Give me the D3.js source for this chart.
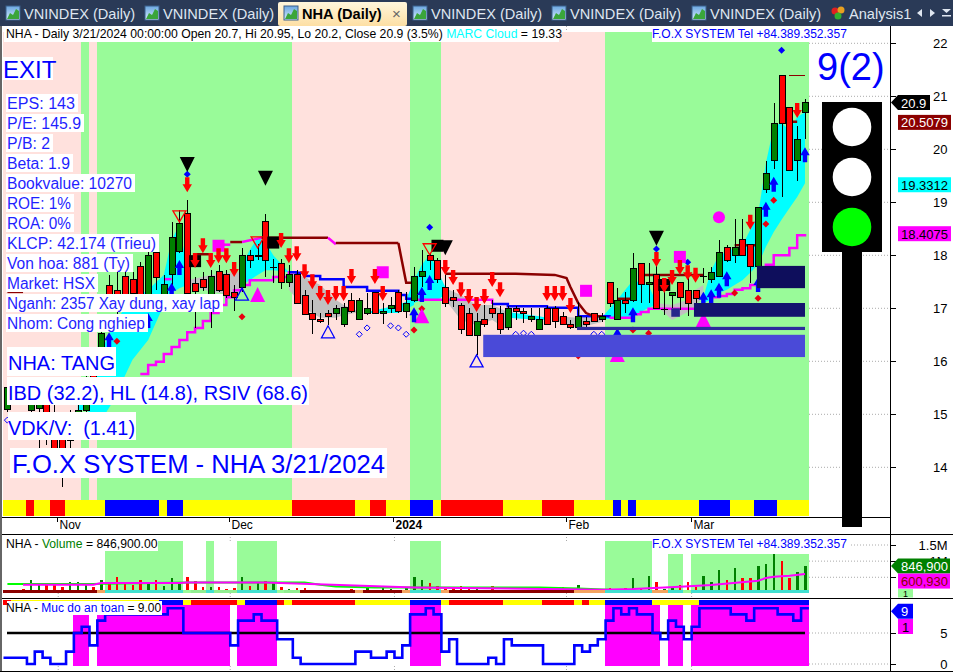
<!DOCTYPE html>
<html><head><meta charset="utf-8">
<script src="https://cdn.jsdelivr.net/npm/d3@7/dist/d3.min.js"></script>
<style>html,body{margin:0;padding:0;background:#fff;overflow:hidden}svg{display:block}text{font-family:"Liberation Sans",Arial,sans-serif;white-space:pre}</style>
</head><body><svg id="c" width="953" height="672"></svg>
<script>
// ---------- DATA ----------
const opens =[15.10,15.42,15.55,15.08,15.12,15.27,14.99,14.70,14.51,14.70,15.08,15.93,16.06,17.44,17.35,17.61,17.55,17.80,17.21,18.06,17.16,17.65,18.08,18.79,17.48,17.55,17.25,17.70,17.65,17.31,17.40,18.01,17.98,18.65,17.78,17.85,17.50,17.65,17.25,16.91,16.80,16.91,16.91,16.70,17.16,16.80,16.91,17.31,16.91,17.01,17.31,16.95,17.16,17.61,18.01,17.91,17.40,17.21,17.06,16.91,16.50,16.80,17.01,16.91,16.65,17.01,16.95,16.80,16.61,17.01,17.01,16.85,16.70,16.65,16.76,16.91,16.80,17.50,16.80,17.16,17.16,17.85,17.46,17.65,16.99,17.25,17.50,17.35,17.35,17.61,17.55,17.61,18.16,18.01,18.31,18.21,17.80,19.25,19.80,21.40,20.80,19.80,20.70];
const closes=[15.51,15.27,15.27,15.36,15.21,14.89,14.36,14.36,14.89,15.08,15.65,15.36,16.53,17.16,17.06,17.21,17.29,17.25,18.01,17.59,17.46,18.35,18.61,17.29,17.33,17.40,17.61,17.35,17.25,17.21,18.01,17.91,18.00,17.91,17.78,17.50,17.65,17.10,16.89,16.80,16.76,16.85,17.01,17.02,16.95,17.16,17.01,16.91,16.95,17.06,16.95,17.10,17.61,17.70,17.91,17.55,17.10,17.16,16.61,16.50,16.76,16.70,16.91,16.61,17.01,16.95,16.91,16.85,16.80,16.70,16.76,16.70,16.65,16.85,16.70,16.76,16.85,17.10,17.16,17.10,17.76,17.46,17.50,17.01,16.99,17.31,17.21,17.10,17.19,17.61,17.68,18.06,17.91,18.16,18.01,17.80,18.91,19.55,20.50,20.50,19.61,20.19,20.90];
const highs =[15.59,15.50,15.65,15.46,15.31,15.42,15.18,14.89,15.08,15.27,15.84,16.12,16.63,17.63,17.68,17.72,17.68,17.87,18.10,18.14,17.63,18.63,18.85,19.04,17.59,17.68,17.72,17.82,17.72,17.44,18.14,18.10,18.21,18.78,17.93,17.93,17.82,17.72,17.35,17.16,16.91,16.97,17.06,17.10,17.29,17.19,17.29,17.31,17.10,17.21,17.35,17.31,17.78,18.10,18.04,17.95,17.63,17.35,17.10,17.01,16.91,17.06,17.16,17.04,17.04,17.04,17.01,17.01,17.01,17.04,17.04,16.93,16.78,17.12,16.83,16.91,16.91,17.50,17.38,17.31,18.04,17.85,17.85,17.95,17.40,17.31,17.50,17.63,17.35,17.76,17.78,18.29,18.19,18.68,18.68,18.21,18.91,19.78,20.87,21.40,20.80,20.44,20.95];
const lows  =[15.04,15.19,15.18,14.99,14.36,14.42,14.33,13.63,14.36,14.61,14.99,15.27,15.93,16.97,16.87,17.16,17.21,17.19,17.16,17.35,17.06,17.29,18.04,17.29,16.63,17.33,16.63,17.31,17.19,16.95,17.31,17.76,17.91,17.59,17.48,17.36,17.40,17.10,16.89,16.51,16.72,16.68,16.78,16.65,16.91,16.80,16.87,16.91,16.70,16.91,16.91,16.82,17.12,17.40,17.72,17.48,17.02,17.02,16.51,16.50,16.12,16.65,16.82,16.51,16.59,16.78,16.72,16.74,16.61,16.70,16.63,16.68,16.61,16.63,16.65,16.76,16.74,17.02,16.80,16.91,17.12,17.10,17.10,17.01,16.87,17.01,16.97,16.85,17.02,17.48,17.48,17.61,17.87,17.85,18.01,17.48,17.80,19.18,19.63,19.10,19.61,19.40,20.20];
const volumes=[60,60,134,413,268,268,289,186,351,351,268,186,413,351,506,330,268,413,289,413,237,475,289,516,392,186,206,206,144,165,516,237,351,392,330,186,124,165,165,103,103,83,62,41,134,103,186,83,165,134,83,165,516,423,330,237,134,186,237,155,124,83,217,83,113,83,83,50,83,50,50,186,83,268,103,83,134,165,134,165,475,165,537,351,134,165,268,351,186,537,351,722,413,784,475,475,846,908,1290,1011,475,660,846.9];
const safety=[1,1,1,0,2,1,0,0,2,5,6,3,7,8,8,8,8,8,8,8,8,9,9,5,5,5,5,5,5,3,7,7,8,7,7,4,4,1,0,0,0,0,0,0,0,2,2,1,1,2,1,3,8,8,9,8,2,4,0,0,0,0,1,0,4,3,3,3,3,0,0,0,0,3,2,3,4,7,9,8,9,8,8,5,4,7,6,4,6,9,9,9,9,8,8,7,9,9,9,8,8,7,9];
const priceTicks=[14,15,16,17,18,19,20,21,22];
const volTicks=[500,1000,1500];
const safetyTicks=[0,5];
const dateTickIdx=[7,29,50,72,88];
const dateTickLabels=["Nov","Dec","2024","Feb","Mar"];
const regimeRuns=[["p",10],["g",1],["p",1],["g",25],["p",15],["g",4],["p",21],["g",26]];
const trendRuns=[["y",3],["r",1],["y",2],["r",2],["y",5],["b",7],["y",1],["b",2],["y",14],["r",8],["y",2],["r",2],["y",3],["b",3],["y",1],["r",8],["y",5],["r",4],["y",5],["b",1],["y",1],["b",1],["y",8],["b",4],["y",3],["b",3],["y",3],["b",1]];
const safeStripRuns=[["r",1],["y",19],["b",3],["y",1],["r",6],["y",1],["b",4],["r",1],["y",1],["r",8],["y",7],["b",4],["y",1],["r",7],["y",5],["r",4],["y",1],["r",1],["y",2],["b",6],["y",6],["b",14]];
const volStripRuns=[["d",12],["o",1],["t",10],["g",1],["l",2],["t",1],["l",3],["t",5],["g",1],["l",2],["d",7],["o",1],["d",5],["o",1],["t",4],["o",1],["d",16],["o",4],["t",6],["o",2],["t",2],["g",1],["t",15]];
const volBandRuns=[["n",13],["g",10],["n",3],["g",1],["n",3],["g",5],["n",17],["g",4],["n",21],["g",6],["n",2],["g",2],["n",1],["g",15]];
const safeBandRuns=[["n",9],["m",2],["n",1],["m",17],["n",1],["m",5],["n",17],["m",4],["n",21],["m",7],["n",1],["m",2],["n",1],["m",15]];
// MARC cloud, segment by segment
const cloudKinds=["c","s","c","s","c","c","s","c","s","c","s","c"];
const cloudIdx=[[9,10,11,12,14,15,16,18,20,21,22,23],[23,26,29,30],[30,31,32,33,34,36],[36,38,40,42,43,45],[46,50,52],[51,52,53,54,55,56],[56,58,60,62,64],[64,68,69],[70,73,76],[76,78,80,81,82,83],[83,85,87,88,89],[89,90,91,92,93,94,95,96,97,98,99,100,101,102]];
const cloudUp=[[15.36,15.46,15.55,16.21,16.78,17.0,17.16,17.35,17.63,18.29,18.57,17.72],[17.53,17.63,17.68,17.68],[17.82,18.10,18.33,18.25,18.0,17.68],[17.68,17.59,17.44,17.16,17.06,16.93],[16.93,17.06,17.19],[17.16,17.53,17.82,18.01,17.72,17.40],[17.38,17.25,17.06,17.06,16.93],[16.93,16.85,16.82],[16.85,16.82,16.82],[16.82,17.16,17.53,17.48,17.44,17.10],[17.10,17.06,17.16,17.35,17.44],[17.21,17.72,18.0,18.06,18.14,18.19,18.48,18.76,19.74,20.42,20.50,20.36,20.61,20.70]];
const cloudLow=[[15.08,15.08,15.0,14.89,15.36,15.72,16.03,16.40,17.06,17.29,17.38,17.44],[17.44,17.31,17.25,17.35],[17.44,17.53,17.63,17.72,17.72,17.68],[17.35,17.0,16.82,16.82,16.87,16.93],[16.91,16.91,17.06],[17.06,17.10,17.16,17.16,17.16,17.25],[17.16,16.78,16.68,16.78,16.59],[16.82,16.78,16.78],[16.78,16.63,16.74],[16.80,16.80,16.84,16.93,17.01,17.06],[17.06,16.78,16.93,17.06,17.21],[17.10,17.16,17.29,17.35,17.44,17.53,17.67,17.82,18.16,18.44,18.67,18.89,19.10,19.36]];
// stop line
const stopIdx=[[0,2],[20,21],[24,26],[27,28.5],[28.5,30],[30,32.5],[32.5,41],[41,42],[42,50],[50,51,52.5],[56,65,70,71.5,72,73,74,75,76],[78,80.5],[81.5,89],[93,96],[99,101]];
const stopVal=[[17.31,17.31],[17.55,17.55],[18.02,18.02],[18.2,18.2],[18.25,18.25],[18.25,18.33],[18.33,18.33],[18.33,18.21],[18.23,18.23],[18.23,17.48,17.48],[17.65,17.65,17.63,17.57,17.40,17.10,16.91,16.85,16.85],[17.18,17.18],[17.63,17.63],[18.19,18.19],[20.52,20.52]];
const stopColor=["#8b0000","#ff00ff","#8b0000","#ff00ff","#8b0000","#ff00ff","#8b0000","#ff00ff","#8b0000","#8b0000","#8b0000","#8b0000","#8b0000","#8b0000","#8b0000"];
// cloud base, stepped
const baseIdx=[17,18,19,20,21,22,23,24,25,26,27,28,29,30,31,33,34,36,37,38,40,43,46,50,51,52,56,62,64,69,73,77,80,81,82,88,89,90,91,92,93,94,95,96,97,98,100,101,102];
const baseVal=[15.76,15.93,15.99,16.14,16.27,16.40,16.55,16.63,16.76,16.91,17.06,17.21,17.34,17.44,17.53,17.53,17.59,17.68,17.67,17.61,17.55,17.40,17.33,17.25,17.18,17.16,17.16,17.08,17.04,17.01,16.85,16.82,16.89,16.93,16.99,17.02,17.06,17.21,17.23,17.27,17.35,17.38,17.44,17.48,17.82,18.0,18.14,18.38,18.40];
const baseColorBreaks=[[17,"#ff00ff"],[37,"#0000ff"],[53,"#ff00ff"],[62,"#0000ff"],[77,"#ff00ff"]];
// volume averages
const volFastIdx=[0,11,12,23,38,40,42,47,52,68,73,77];
const volFastVal=[289,289,300,340,340,268,217,186,186,186,155,113];
const volSlowIdx=[2,11,12,22,23,33,52,76,80,86,90,96,97,98,100,102];
const volSlowVal=[268,268,320,320,340,340,186,113,134,206,258,392,475,516,547,600.93];
// signals: [bar, price]
const redDown=[[23,19.19],[24,17.76],[25,18.04],[26,17.76],[27,17.85],[28,17.85],[29,17.59],[35,18.14],[36,17.85],[37,17.89],[38,17.55],[39,17.36],[40,17.14],[41,17.06],[42,17.14],[43,17.14],[44,17.46],[47,17.46],[48,17.14],[56,17.63],[57,17.44],[58,17.21],[59,17.08],[60,16.93],[61,17.08],[62,17.40],[63,17.21],[69,17.14],[70,17.14],[71,17.14],[72,16.91],[83,17.78],[84,17.29],[85,17.44],[86,17.63],[87,17.53],[88,17.48],[95,18.48],[101,20.59]];
const blueUp=[[13,16.55],[18,16.91],[21,17.48],[22,17.91],[52,17.02],[53,17.40],[54,17.63],[78,16.63],[80,17.02],[89,17.31],[90,17.36],[91,17.48],[92,17.70],[96,17.59],[97,19.01],[98,19.48],[102,20.04]];
const redDiamonds=[[14,16.38],[30,16.84],[52,16.59],[53,16.99],[73,16.10],[80,16.59],[82,16.53],[93,17.29],[96,17.19],[97,18.59],[98,19.04]];
const blueDiamonds=[[23,19.53],[54,18.53],[83,18.12],[87,17.87],[99,21.87]];
const hollowDiamonds=[[0,14.89],[45,16.51],[46,16.63],[49,16.67],[50,16.63],[51,16.51],[65,16.51],[66,16.53],[67,16.51],[75,16.51],[76,16.51]];
const blackTriangles=[[23,19.57],[33,19.31],[56,18.0],[83,18.18]];
const blackSquares=[[24,17.89],[34,18.24],[55,18.18],[84,17.44]];
const hollowRedTri=[[22,18.63],[32,18.14],[54,18.01]];
const hollowBlueTri=[[30,17.38],[41,16.67],[60,16.12]];
const magentaTri=[[32,17.40],[53,17.0],[78,16.27],[89,16.93]];
const magentaSquares=[[27,18.18],[48,17.68],[74,17.33],[86,17.97]];
const magentaCircles=[[91,18.72]];
const zones=[[60.85,102,16.50,16.08,"#4a4ad8"],[72.85,102,16.65,16.59,"#2c2c9c"],[87.8,102,17.10,16.84,"#14146e"],[84.9,86,17.0,16.84,"#26268a"],[95.85,102,17.80,17.38,"#0e0e5c"]];
const infoLines=["EPS: 143","P/E: 145.9","P/B: 2","Beta: 1.9","Bookvalue: 10270","ROE: 1%","ROA: 0%","KLCP: 42.174 (Trieu)","Von hoa: 881 (Ty)","Market: HSX","Nganh: 2357 Xay dung, xay lap","Nhom: Cong nghiep"];
const infoTextWidths=[68,74,43,63,125,64,64,149,123,88,213,138];
const tabLabels=["VNINDEX (Daily)","VNINDEX (Daily)","NHA (Daily)","VNINDEX (Daily)","VNINDEX (Daily)","VNINDEX (Daily)","Analysis1"];
const lastClose=20.9,stopLast=20.5079,cloudLast=19.3312,baseLast=18.4075,lastVol=846.9,avgVol=600.93;

// ---------- SCALES ----------
const n=closes.length;
const x=d3.scaleLinear().domain([0,n-1]).range([7.4,805]);
const y=d3.scaleLinear().domain([22,14]).range([43.3,467.3]);
const yV=d3.scaleLinear().domain([0,1500]).range([593.4,545]);
const yS=d3.scaleLinear().domain([0,5]).range([664,633]);
const svg=d3.select("#c");
const colors={p:"#ffe1dd",g:"#99fb99",y:"#ffff00",r:"#ff0000",b:"#0000ff",d:"#8b0000",o:"#f4a460",t:"#40e0d0",l:"#90ee90",m:"#ff00ff",c:"#00ffff",s:"#c0c0c0"};
function expand(runs){const a=[];let i=0;runs.forEach(([k,c])=>{a.push({k,i,c});i+=c;});return a;}
const edge=i=>i>=n-1?809:Math.round(x(i-0.5)-0.6);
function runRects(g,runs,y0,y1){
 g.selectAll(null).data(expand(runs).filter(d=>d.k!=="n")).join("rect")
  .attr("x",d=>edge(d.i)).attr("width",d=>edge(d.i+d.c)-edge(d.i))
  .attr("y",y0).attr("height",y1-y0).attr("fill",d=>colors[d.k]).attr("shape-rendering","crispEdges");
}
const font='"Liberation Sans",Arial,sans-serif';
function boxed(s,tx,cy,size,fill,bx,by,bw,bh,fit){
 svg.append("rect").attr("x",bx).attr("y",by).attr("width",bw).attr("height",bh).attr("fill","#fff");
 const t=svg.append("text").attr("x",tx).attr("y",cy).attr("font-size",size).attr("fill",fill).attr("dominant-baseline","central").text(s);
 if(fit) t.attr("textLength",fit).attr("lengthAdjust","spacingAndGlyphs");
}

// ---------- MAIN BACKGROUND ----------
runRects(svg.append("g"),regimeRuns,32,500);
runRects(svg.append("g"),trendRuns,500,516);

// dotted grids
const dots=svg.append("g").attr("stroke","#aaa").attr("stroke-dasharray","1 2").attr("fill","none");
priceTicks.forEach(v=>dots.append("line").attr("x1",809).attr("x2",890).attr("y1",y(v)).attr("y2",y(v)));
volTicks.forEach(v=>dots.append("line").attr("x1",809).attr("x2",890).attr("y1",yV(v)).attr("y2",yV(v)));
safetyTicks.forEach(v=>dots.append("line").attr("x1",809).attr("x2",890).attr("y1",yS(v)).attr("y2",yS(v)));
dateTickIdx.forEach(i=>{[[534,541],[593,598],[598,601],[666,671],[26,32]].forEach(([a,b])=>{
  dots.append("line").attr("x1",x(i-0.5)).attr("x2",x(i-0.5)).attr("y1",a).attr("y2",b);});});

// cloud
const gCloud=svg.append("g");
cloudIdx.forEach((idx,s)=>{
 const pts=idx.map((i,j)=>({i,u:cloudUp[s][j],l:cloudLow[s][j]}));
 gCloud.append("path").attr("fill",colors[cloudKinds[s]])
  .attr("d",d3.area().x(d=>x(d.i)).y0(d=>y(d.l)).y1(d=>y(d.u))(pts));
});
// base line (stepped, colour by regime)
const gBase=svg.append("g").attr("fill","none").attr("stroke-width",2.5);
baseColorBreaks.forEach(([start,col],k)=>{
 const end=k+1<baseColorBreaks.length?baseColorBreaks[k+1][0]:1e9;
 const pts=baseIdx.map((b,j)=>[b,baseVal[j]]).filter(p=>p[0]>=start-(k?1:0)&&p[0]<=end);
 gBase.append("path").attr("stroke",col)
  .attr("d",d3.line().x(p=>x(p[0])).y(p=>y(p[1])).curve(d3.curveStepAfter)(pts));
});
// stop line
const gStop=svg.append("g").attr("fill","none").attr("stroke-width",2.5);
stopIdx.forEach((idx,s)=>{
 gStop.append("path").attr("stroke",stopColor[s])
  .attr("d",d3.line().x(d=>x(d)).y((d,j)=>y(stopVal[s][j]))(idx));
});
svg.append("line").attr("x1",x(100)).attr("x2",x(102)).attr("y1",y(21.40)).attr("y2",y(21.40)).attr("stroke","#8b0000").attr("shape-rendering","crispEdges");

// candles
const gC=svg.append("g").attr("shape-rendering","crispEdges");
closes.forEach((c,i)=>{
 const o=opens[i],px=Math.round(x(i));
 gC.append("line").attr("x1",px+.5).attr("x2",px+.5).attr("y1",y(highs[i])).attr("y2",y(lows[i])).attr("stroke","#000");
 const top=Math.round(y(Math.max(o,c))),bot=Math.round(y(Math.min(o,c)));
 if(bot-top<1){gC.append("line").attr("x1",px-3).attr("x2",px+4).attr("y1",top+.5).attr("y2",top+.5).attr("stroke","#000");return;}
 gC.append("rect").attr("x",px-2.5).attr("y",top+.5).attr("width",6).attr("height",bot-top)
  .attr("fill",c>=o?"#008000":"#ff0000").attr("stroke","#000");
});

// markers
const gM=svg.append("g");
const tri=(cx,ty,w,h,dir)=>`M${cx-w/2},${ty-dir*h}L${cx+w/2},${ty-dir*h}L${cx},${ty}Z`;
const arrow=(cx,ty,dir)=>`M${cx},${ty}L${cx+4.7},${ty-dir*8}L${cx+2.2},${ty-dir*8}L${cx+2.2},${ty-dir*15}L${cx-2.2},${ty-dir*15}L${cx-2.2},${ty-dir*8}L${cx-4.7},${ty-dir*8}Z`;
const diamond=(cx,cy,r)=>`M${cx},${cy-r}L${cx+r},${cy}L${cx},${cy+r}L${cx-r},${cy}Z`;
hollowDiamonds.forEach(([i,p])=>gM.append("path").attr("d",diamond(x(i),y(p),3)).attr("fill","none").attr("stroke","#0000ff"));
redDiamonds.forEach(([i,p])=>gM.append("path").attr("d",diamond(x(i),y(p),3.5)).attr("fill","#e8000f"));
blueDiamonds.forEach(([i,p])=>gM.append("path").attr("d",diamond(x(i),y(p),3.5)).attr("fill","#0000ff"));
magentaTri.forEach(([i,p])=>gM.append("path").attr("d",tri(x(i),y(p),15,15,-1)).attr("fill","#ff00ff"));
magentaSquares.forEach(([i,p])=>gM.append("rect").attr("x",x(i)-6).attr("y",y(p)-6).attr("width",12).attr("height",12).attr("fill","#ff00ff"));
magentaCircles.forEach(([i,p])=>gM.append("circle").attr("cx",x(i)).attr("cy",y(p)).attr("r",6).attr("fill","#ff00ff"));
blackSquares.forEach(([i,p])=>gM.append("rect").attr("x",x(i)-6).attr("y",y(p)-6).attr("width",12).attr("height",12).attr("fill","#000"));
blackTriangles.forEach(([i,p])=>gM.append("path").attr("d",tri(x(i),y(p),15,15,1)).attr("fill","#000"));
hollowRedTri.forEach(([i,p])=>gM.append("path").attr("d",tri(x(i),y(p),13,11,1)).attr("fill","none").attr("stroke","#ff0000").attr("stroke-width",1.3));
hollowBlueTri.forEach(([i,p])=>gM.append("path").attr("d",tri(x(i),y(p),13,12,-1)).attr("fill","none").attr("stroke","#0000ff").attr("stroke-width",1.3));
redDown.forEach(([i,p])=>gM.append("path").attr("d",arrow(x(i),y(p),1)).attr("fill","#ff0000"));
blueUp.forEach(([i,p])=>gM.append("path").attr("d",arrow(x(i),y(p),-1)).attr("fill","#0000ff"));
// zones
svg.append("g").selectAll("rect").data(zones).join("rect")
 .attr("x",d=>x(d[0])).attr("width",d=>x(d[1])-x(d[0])).attr("y",d=>y(d[2])).attr("height",d=>y(d[3])-y(d[2])).attr("fill",d=>d[4]);

// ---------- VOLUME PANEL ----------
runRects(svg.append("g"),volBandRuns,541,593);
svg.append("g").selectAll("rect").data(volumes).join("rect")
 .attr("x",(d,i)=>x(i)-1).attr("width",2.5).attr("y",d=>yV(d)).attr("height",d=>yV(0)-yV(d))
 .attr("fill",(d,i)=>closes[i]>=opens[i]?"#008000":"#ff0000").attr("shape-rendering","crispEdges");
const vline=d3.line().x(d=>x(d[0])).y(d=>yV(d[1]));
svg.append("path").attr("fill","none").attr("stroke","#00ff00").attr("stroke-width",2).attr("d",vline(volFastIdx.map((b,j)=>[b,volFastVal[j]])));
svg.append("path").attr("fill","none").attr("stroke","#ff00ff").attr("stroke-width",2).attr("d",vline(volSlowIdx.map((b,j)=>[b,volSlowVal[j]])));
runRects(svg.append("g"),volStripRuns,590,593);

// ---------- SAFETY PANEL ----------
runRects(svg.append("g"),safeBandRuns,605,665.7);
runRects(svg.append("g"),safeStripRuns,600,605);
svg.append("line").attr("x1",7).attr("x2",805).attr("y1",yS(5)).attr("y2",yS(5)).attr("stroke","#000").attr("stroke-width",2.5);
const sPts=safety.map((v,i)=>[i-0.5,v]);sPts.push([n-0.5,safety[n-1]]);
svg.append("path").attr("fill","none").attr("stroke","#0000ff").attr("stroke-width",2.6)
 .attr("d",d3.line().x(d=>x(d[0])).y(d=>yS(d[1])).curve(d3.curveStepAfter)(sPts));

// ---------- FRAME ----------
const frame=svg.append("g").attr("stroke","#000").attr("shape-rendering","crispEdges");
frame.append("line").attr("x1",0).attr("x2",890).attr("y1",517).attr("y2",517);
frame.append("line").attr("x1",0).attr("x2",953).attr("y1",534).attr("y2",534);
frame.append("line").attr("x1",0).attr("x2",953).attr("y1",598).attr("y2",598);
frame.append("line").attr("x1",0).attr("x2",953).attr("y1",671).attr("y2",671);
frame.append("line").attr("x1",890.5).attr("x2",890.5).attr("y1",26).attr("y2",671);
frame.append("line").attr("x1",1).attr("x2",1).attr("y1",26).attr("y2",671).attr("stroke","#666").attr("stroke-width",2);

// axes
function rightAxis(scale,ticks,fmt){
 const g=svg.append("g").attr("transform","translate(890.5,0)")
   .call(d3.axisRight(scale).tickValues(ticks).tickSize(5).tickFormat(fmt));
 g.select(".domain").remove();
 g.selectAll("text").attr("x",57).attr("text-anchor","end").attr("font-size",13).attr("fill","#000").style("font-family",font);
 g.selectAll("line").attr("shape-rendering","crispEdges");
 return g;
}
rightAxis(y,priceTicks,d=>d);
rightAxis(yV,volTicks,d=>d>=1000?(d/1000)+"M":"");
rightAxis(yS,safetyTicks,d=>d);
// date ticks
const dt=svg.append("g");
dateTickIdx.forEach((i,k)=>{
 const px=Math.round(x(i-0.5))+.5-1;
 dt.append("line").attr("x1",px).attr("x2",px).attr("y1",517).attr("y2",522).attr("stroke","#000").attr("shape-rendering","crispEdges");
 dt.append("text").attr("x",px+2).attr("y",525).attr("dominant-baseline","central").attr("font-size",12)
   .attr("font-weight",dateTickLabels[k]==="2024"?"bold":"normal").attr("fill","#000").text(dateTickLabels[k]);
});

// ---------- TABS ----------
const defs=svg.append("defs");
const grad=defs.append("linearGradient").attr("id","tab").attr("x1",0).attr("x2",0).attr("y1",0).attr("y2",1);
grad.append("stop").attr("offset",0).attr("stop-color","#fff6dc");
grad.append("stop").attr("offset",1).attr("stop-color","#fddfa4");
const icoG=defs.append("linearGradient").attr("id","ico").attr("x1",0).attr("x2",0).attr("y1",0).attr("y2",1);
icoG.append("stop").attr("offset",0).attr("stop-color","#6aa6e0");
icoG.append("stop").attr("offset",1).attr("stop-color","#d8ecff");
svg.append("rect").attr("x",0).attr("y",0).attr("width",953).attr("height",26).attr("fill","#2a3a57");
svg.append("rect").attr("x",278).attr("y",2).attr("width",129).attr("height",24).attr("rx",2).attr("fill","url(#tab)");
const tabX=[6,145,284,413,552,692];
tabLabels.slice(0,6).forEach((s,k)=>{
 const ix=tabX[k];
 svg.append("rect").attr("x",ix).attr("y",6).attr("width",14).attr("height",14).attr("fill","url(#ico)").attr("stroke","#3a5f8a");
 svg.append("path").attr("d",`M${ix+1},19L${ix+4},13L${ix+7},15L${ix+10},9L${ix+13},11L${ix+13},19Z`).attr("fill","#3aa53a");
 svg.append("text").attr("x",ix+18).attr("y",13.5).attr("dominant-baseline","central").attr("font-size",14.6)
  .attr("font-weight",k===2?"bold":"normal").attr("fill",k===2?"#000":"#dfe6f0").text(s);
});
svg.append("text").attr("x",392).attr("y",13).attr("dominant-baseline","central").attr("font-size",15).attr("fill","#666").text("×");
// analysis tab
svg.append("circle").attr("cx",835).attr("cy",11).attr("r",3.5).attr("fill","#e02020");
svg.append("circle").attr("cx",841).attr("cy",10).attr("r",3.5).attr("fill","#e8a020");
svg.append("circle").attr("cx",838).attr("cy",16).attr("r",3.5).attr("fill","#30b030");
svg.append("text").attr("x",849).attr("y",13.5).attr("dominant-baseline","central").attr("font-size",14.6).attr("fill","#dfe6f0").text(tabLabels[6]);
svg.append("path").attr("d","M922,9L922,17L917,13Z M930,9L930,17L935,13Z M942,9L951,9L946.5,13Z").attr("fill","#dfe6f0");
svg.append("rect").attr("x",942).attr("y",15).attr("width",9).attr("height",1.5).attr("fill","#dfe6f0");

// ---------- HEADER ----------
svg.append("rect").attr("x",4).attr("y",26).attr("width",555).attr("height",16).attr("fill","#fff");
const hdr=svg.append("text").attr("x",6).attr("y",33.5).attr("dominant-baseline","central").attr("font-size",12.22).attr("fill","#000");
hdr.append("tspan").text("NHA - Daily 3/21/2024 00:00:00 Open 20.7, Hi 20.95, Lo 20.2, Close 20.9 (3.5%) ");
hdr.append("tspan").attr("fill","#00ffff").text("MARC Cloud");
hdr.append("tspan").text(" = 19.33");
boxed("F.O.X SYSTEM Tel +84.389.352.357",652,33.5,12,"#0000ff",652,26,197,16);
boxed("F.O.X SYSTEM Tel +84.389.352.357",652,543.5,12,"#0000ff",652,536,197,18);

// ---------- LEFT LABELS ----------
boxed("EXIT",3,69,24,"#0000ff",3,57,50,23);
infoLines.forEach((s,k)=>{
 const cy=103+20*k,w=infoTextWidths[k];
 boxed(s,7,cy,16,"#1f1fff",6,cy-9,w+4,18,w);
});
boxed("NHA: TANG",8,362,21,"#0000ff",7,347,109,29,107);
boxed("IBD (32.2), HL (14.8), RSIV (68.6)",8,393,20,"#0000ff",7,377,302,28,300);
boxed("VDK/V:  (1.41)",8,428,20,"#0000ff",8,412,128,28,127);
boxed("F.O.X SYSTEM - NHA 3/21/2024",12,464,26,"#0000ff",10,448,377,30,373);

// ---------- PANEL LABELS ----------
svg.append("rect").attr("x",5).attr("y",536).attr("width",153).attr("height",15).attr("fill","#fff");
const vl=svg.append("text").attr("x",6).attr("y",543.5).attr("dominant-baseline","central").attr("font-size",12.2).attr("fill","#000");
vl.append("tspan").text("NHA - ");vl.append("tspan").attr("fill","#008000").text("Volume");vl.append("tspan").text(" = 846,900.00");
svg.append("rect").attr("x",5).attr("y",601).attr("width",157).attr("height",14).attr("fill","#fff");
svg.append("rect").attr("x",5).attr("y",601).attr("width",2).attr("height",4).attr("fill","#ff0000");
const sl=svg.append("text").attr("x",6).attr("y",607.5).attr("dominant-baseline","central").attr("font-size",12).attr("fill","#000");
sl.append("tspan").text("NHA - ");sl.append("tspan").attr("fill","#0000ff").text("Muc do an toan");sl.append("tspan").text(" = 9.00");

// ---------- RIGHT TAGS ----------
function tag(cy,text,bg,fg,pent,ww){
 const l=pent?891:898,t=cy-7.5,b=cy+7.5,r=pent?pent:(ww||951);
 if(pent) svg.append("path").attr("d",`M${l},${cy}L${l+7},${t}L${r},${t}L${r},${b}L${l+7},${b}Z`).attr("fill",bg);
 else svg.append("rect").attr("x",l).attr("y",t).attr("width",r-l).attr("height",15).attr("fill",bg);
 svg.append("text").attr("x",pent?l+10:l+3).attr("y",cy+.5).attr("dominant-baseline","central").attr("font-size",13).attr("fill",fg).text(text);
}
tag(y(lastClose)+1,"20.9","#000","#fff",930);
tag(y(stopLast),"20.5079","#8b0000","#fff");
tag(y(cloudLast),"19.3312","#00ffff","#000");
tag(y(baseLast),"18.4075","#ff00ff","#000");
tag(yV(lastVol),"846,900","#008000","#fff",950);
tag(yV(lastVol)+15,"600,930","#ff00ff","#8b0000",null,950);
svg.append("rect").attr("x",898).attr("y",589).attr("width",15).attr("height",8.5).attr("fill","#99fb99");
svg.append("text").attr("x",903).attr("y",594).attr("dominant-baseline","central").attr("font-size",9).attr("fill","#000").text("1");
tag(yS(9)+3,"9","#0000ff","#fff",913);
svg.append("rect").attr("x",898).attr("y",619).attr("width",15).attr("height",15).attr("fill","#ff00ff");
svg.append("text").attr("x",902).attr("y",627).attr("dominant-baseline","central").attr("font-size",13).attr("fill","#000").text(safety[0]);

// ---------- TRAFFIC LIGHT ----------
svg.append("text").attr("x",817).attr("y",67).attr("dominant-baseline","central").attr("font-size",38).attr("fill","#0000ff").text("9(2)");
svg.append("rect").attr("x",822).attr("y",102).attr("width",60).attr("height",150).attr("fill","#000");
svg.append("rect").attr("x",842).attr("y",252).attr("width",20).attr("height",275).attr("fill","#000");
[[127,"#fff"],[177,"#fff"],[227,"#00ff00"]].forEach(([cy,f])=>svg.append("circle").attr("cx",852).attr("cy",cy).attr("r",19.3).attr("fill",f));
</script></body></html>
